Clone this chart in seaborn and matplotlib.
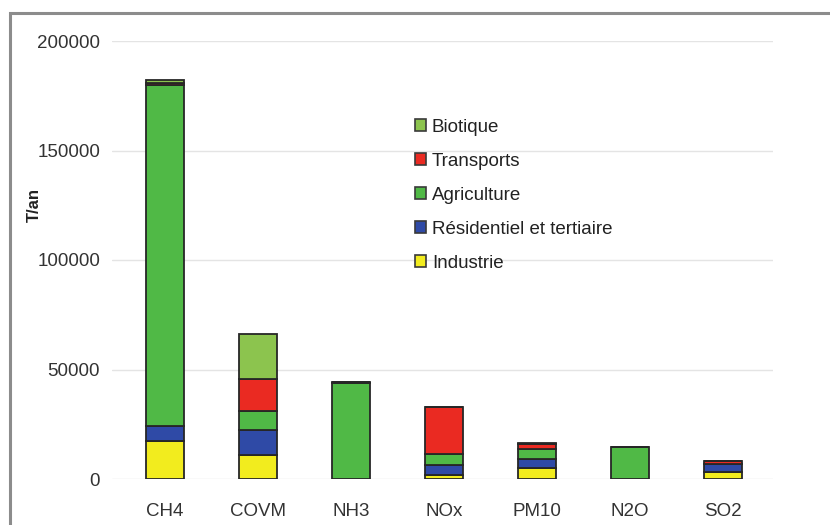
import matplotlib
matplotlib.use("Agg")
import matplotlib.pyplot as plt
import matplotlib.patches as mpatches
import numpy as np
import seaborn as sns

# Emissions par polluant et par secteur (T/an)
polluants = ["CH4", "COVM", "NH3", "NOx", "PM10", "N2O", "SO2"]
industrie = [17500, 11000, 0, 2000, 5000, 0, 3000]
residentiel = [6500, 11600, 0, 4300, 4000, 0, 4000]
agriculture = [156000, 8300, 43800, 5000, 4600, 14500, 0]
transports = [800, 14900, 400, 21600, 2200, 300, 1000]
biotique = [1200, 20300, 0, 0, 800, 0, 0]

secteurs = ["Industrie", "Résidentiel et tertiaire", "Agriculture", "Transports", "Biotique"]
couleurs = ["#f2ec1e", "#2f4aa6", "#50b946", "#ea2a22", "#8cc44e"]
valeurs = [industrie, residentiel, agriculture, transports, biotique]

sns.set_theme(style="white")
plt.rcParams["font.family"] = ["Liberation Sans", "DejaVu Sans"]

fig = plt.figure(figsize=(8.30, 5.25), dpi=100)
W, H = 830, 525
ax = fig.add_axes([112 / W, 1 - 479 / H, 661 / W, 438 / H])

cumul = np.zeros(len(polluants))
handles = []
for nom, coul, vals in zip(secteurs, couleurs, valeurs):
    vals = np.asarray(vals, dtype=float)
    sns.barplot(x=polluants, y=vals, bottom=cumul, order=polluants,
                color=coul, saturation=1, width=0.41,
                edgecolor="#262626", linewidth=1.3, ax=ax, zorder=3)
    handles.append(mpatches.Patch(facecolor=coul, edgecolor="#3a3a3a",
                                  linewidth=1.2, label=nom))
    cumul += vals

ax.set_xlim(-0.57, 6.54)
ax.set_ylim(0, 200000)
ax.set_yticks(np.arange(0, 200001, 50000))
ax.set_yticklabels([str(v) for v in range(0, 200001, 50000)])
ax.yaxis.grid(True, color="#e4e4e4", linewidth=1.0, zorder=0)
ax.xaxis.grid(False)
for s in ax.spines.values():
    s.set_visible(False)
ax.tick_params(axis="both", length=0, labelsize=13.5, colors="#333333")
ax.tick_params(axis="y", pad=8.5)
ax.tick_params(axis="x", pad=17)
ax.set_xlabel("")
ax.set_ylabel("T/an", fontsize=12, fontweight="bold", color="#222222")
ax.yaxis.set_label_coords(-0.106, 0.626)

leg = fig.legend(handles=handles[::-1], loc="upper left",
                 bbox_to_anchor=(415 / W, 1 - 119 / H), frameon=False,
                 fontsize=13.5, handlelength=0.6, handleheight=0.6,
                 handletextpad=0.3, labelspacing=0.9, borderpad=0,
                 borderaxespad=0)
for t in leg.get_texts():
    t.set_color("#222222")

# cadre gris autour du graphique
fig.patches.append(mpatches.Rectangle((10 / W, -0.05), 1.0, 1 - 13 / H + 0.05,
                                      transform=fig.transFigure, fill=False,
                                      edgecolor="#8c8c8c", linewidth=2.2))

fig.savefig("out.png", dpi=100, facecolor="white")
